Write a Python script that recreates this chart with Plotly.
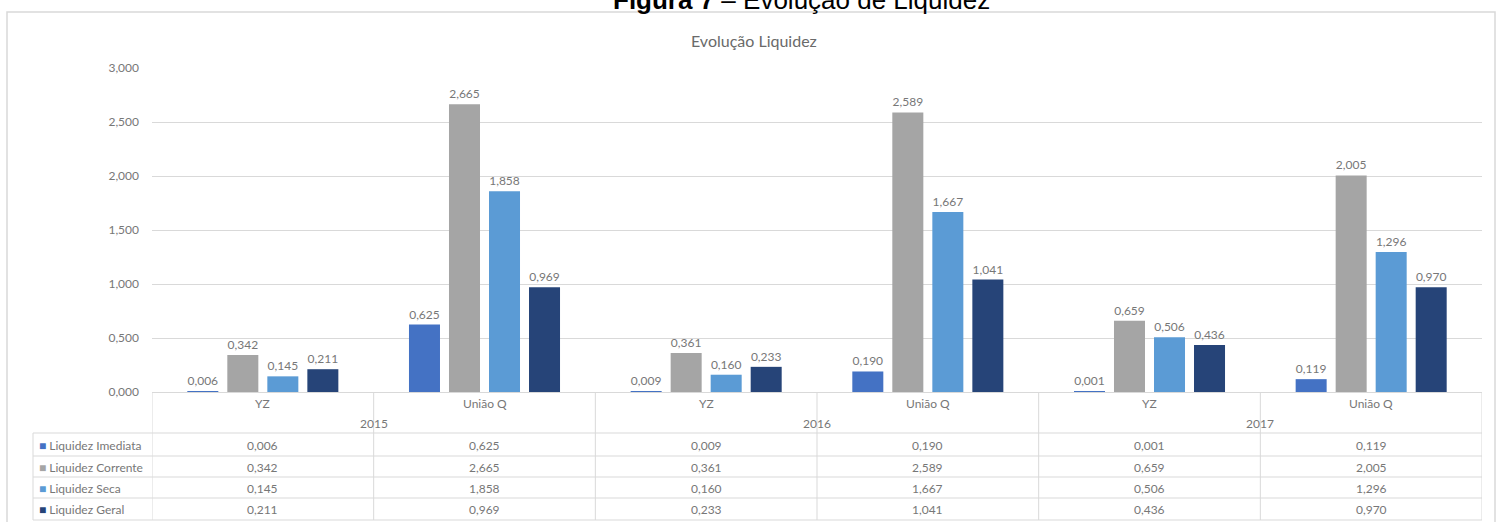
import plotly.graph_objects as go

# ---------------- data ----------------
years = ["2015", "2016", "2017"]
companies = ["YZ", "União Q"]
categories = ["YZ", "União Q", "YZ", "União Q", "YZ", "União Q"]
category_years = ["2015", "2015", "2016", "2016", "2017", "2017"]

series_names = ["Liquidez Imediata", "Liquidez Corrente", "Liquidez Seca", "Liquidez Geral"]
liq_imediata = [0.006, 0.625, 0.009, 0.190, 0.001, 0.119]
liq_corrente = [0.342, 2.665, 0.361, 2.589, 0.659, 2.005]
liq_seca = [0.145, 1.858, 0.160, 1.667, 0.506, 1.296]
liq_geral = [0.211, 0.969, 0.233, 1.041, 0.436, 0.970]
series_values = [liq_imediata, liq_corrente, liq_seca, liq_geral]
series_colors = ["#4472C4", "#A5A5A5", "#5B9BD5", "#264478"]

y_ticks = [0, 0.5, 1.0, 1.5, 2.0, 2.5, 3.0]

# ---------------- geometry helpers (layout only) ----------------
W, H = 1504, 522
ML, MR, MT, MB = 152, 22, 68, 130
PW, PH = W - ML - MR, H - MT - MB


def px(xp):
    return (xp - ML) / PW


def py(yp):
    return 1 - (yp - MT) / PH


FONT = "Lato, 'Open Sans', sans-serif"
GREY_TXT = "#777777"
LINE = "#D9D9D9"
FS = 12

fig = go.Figure()
xs = list(range(len(categories)))
for name, vals, col in zip(series_names, series_values, series_colors):
    fig.add_trace(go.Bar(
        x=xs, y=vals, name=name, marker=dict(color=col, line=dict(width=0)),
        texttemplate="%{y:.3f}", textposition="outside",
        textfont=dict(family=FONT, size=FS, color=GREY_TXT),
        cliponaxis=False, showlegend=False,
    ))

annotations = []
shapes = []

# titles
annotations.append(dict(
    text="<b>Figura 7</b> – Evolução de Liquidez", xref="paper", yref="paper",
    x=px(801), y=py(0), showarrow=False, xanchor="center", yanchor="middle",
    font=dict(family="'Liberation Sans', Arial, sans-serif", size=26, color="#000000")))
annotations.append(dict(
    text="Evolução Liquidez", xref="paper", yref="paper",
    x=px(754), y=py(40), showarrow=False, xanchor="center", yanchor="middle",
    font=dict(family=FONT, size=16, color="#6a6a6a")))

# chart frame
shapes.append(dict(type="rect", xref="paper", yref="paper",
                   x0=px(7), x1=px(1495), y0=py(530), y1=py(12),
                   line=dict(color=LINE, width=1.5), layer="below"))

# category labels and years
for i, c in enumerate(categories):
    annotations.append(dict(text=c, xref="x", yref="paper", x=i, y=py(403),
                            xanchor="center", yanchor="middle",
                            showarrow=False, font=dict(family=FONT, size=FS, color=GREY_TXT)))
for j, yr in enumerate(years):
    annotations.append(dict(text=yr, xref="x", yref="paper", x=2 * j + 0.5, y=py(423),
                            xanchor="center", yanchor="middle",
                            showarrow=False, font=dict(family=FONT, size=FS, color=GREY_TXT)))

# data table
row_centers = [445, 467, 488, 509]
for r, (name, vals, col) in enumerate(zip(series_names, series_values, series_colors)):
    annotations.append(dict(
        text=f'<span style="color:{col}">■</span> {name}', xref="paper", yref="paper",
        x=px(37), y=py(row_centers[r]), xanchor="left", yanchor="middle", showarrow=False,
        font=dict(family=FONT, size=FS, color=GREY_TXT)))
    for i, v in enumerate(vals):
        annotations.append(dict(
            text=f"{v:.3f}".replace(".", ","), xref="x", yref="paper", x=i, y=py(row_centers[r]),
            xanchor="center", yanchor="middle",
            showarrow=False, font=dict(family=FONT, size=FS, color=GREY_TXT)))

# table lines
for yl in [433, 456, 477, 498, 520]:
    shapes.append(dict(type="line", xref="paper", yref="paper", x0=px(33), x1=px(1482),
                       y0=py(yl), y1=py(yl), line=dict(color=LINE, width=1)))
shapes.append(dict(type="line", xref="paper", yref="paper", x0=px(33), x1=px(33),
                   y0=py(433), y1=py(520), line=dict(color=LINE, width=1)))
for i in range(len(categories) + 1):
    shapes.append(dict(type="line", xref="x", yref="paper", x0=i - 0.5, x1=i - 0.5,
                       y0=py(392), y1=py(520), line=dict(color=LINE, width=1)))

fig.update_layout(
    width=W, height=H, autosize=False,
    margin=dict(l=ML, r=MR, t=MT, b=MB),
    paper_bgcolor="white", plot_bgcolor="white",
    separators=",.",
    barmode="group", bargap=0.278, bargroupgap=0.225,
    xaxis=dict(range=[-0.5, 5.5], showticklabels=False, showgrid=False, zeroline=False,
               showline=True, linecolor=LINE, linewidth=1, fixedrange=True),
    yaxis=dict(range=[0, 3], tickvals=y_ticks, tickformat=".3f", showgrid=True,
               gridcolor=LINE, gridwidth=1, zeroline=False, showline=False,
               ticklabelstandoff=12,
               tickfont=dict(family=FONT, size=FS, color=GREY_TXT)),
    annotations=annotations, shapes=shapes,
    font=dict(family=FONT),
)

fig.write_html("out.html")
